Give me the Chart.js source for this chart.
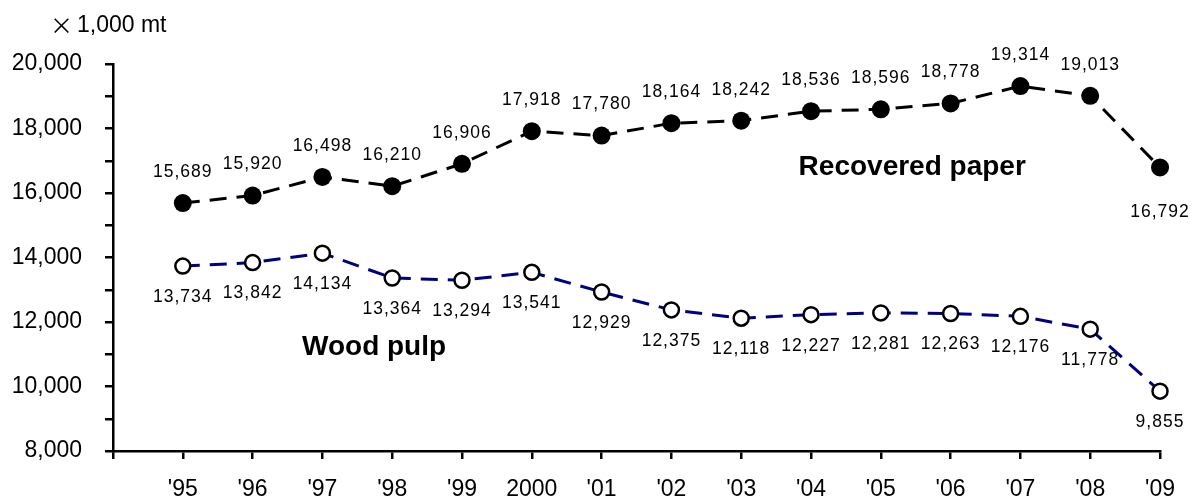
<!DOCTYPE html>
<html lang="en">
<head>
    <meta charset="UTF-8">
    <title>Recovered paper and wood pulp</title>
    <script src="https://cdn.jsdelivr.net/npm/chart.js"></script>
    <style>
        html, body { margin: 0; padding: 0; background: #fff; }
        .chart-box { width: 1192px; height: 502px; position: relative; }
    </style>
</head>
<body>
    <div class="chart-box">
        <canvas id="pulpChart"></canvas>
    </div>

    <script>
        // x categories: a blank slot before '95 so the axis starts one step early
        const years = ['', "'95", "'96", "'97", "'98", "'99", '2000', "'01", "'02", "'03", "'04", "'05", "'06", "'07", "'08", "'09"];
        const recoveredPaper = [15689, 15920, 16498, 16210, 16906, 17918, 17780, 18164, 18242, 18536, 18596, 18778, 19314, 19013, 16792];
        const woodPulp = [13734, 13842, 14134, 13364, 13294, 13541, 12929, 12375, 12118, 12227, 12281, 12263, 12176, 11778, 9855];
        const unitLabel = '1,000 mt';

        const font = '"Liberation Sans", Arial, sans-serif';

        function toPoints(values) {
            return values.map((v, i) => ({ x: years[i + 1], y: v }));
        }

        // value labels next to each marker, plus the series names and unit
        const labelPlugin = {
            id: 'labels',
            afterDatasetsDraw(chart) {
                const ctx = chart.ctx;
                const xs = chart.scales.x, ys = chart.scales.y;
                ctx.save();
                ctx.fillStyle = '#000';
                ctx.textAlign = 'center';
                ctx.textBaseline = 'middle';
                ctx.font = '17.5px ' + font;
                ctx.letterSpacing = '1px';

                chart.data.datasets.forEach((ds, di) => {
                    const meta = chart.getDatasetMeta(di);
                    meta.data.forEach((pt, i) => {
                        const v = ds.data[i].y;
                        let dy = di === 0 ? -31 : 31;
                        if (di === 0 && i === ds.data.length - 1) dy = 45;
                        ctx.fillText(v.toLocaleString('en-US'), pt.x, pt.y + dy);
                    });
                });

                ctx.letterSpacing = '0px';
                ctx.font = 'bold 28px ' + font;
                ctx.fillText('Recovered paper', xs.getPixelForValue(11.45), ys.getPixelForValue(16800));
                ctx.fillText('Wood pulp', xs.getPixelForValue(3.74), ys.getPixelForValue(11220));

                // unit caption top-left
                ctx.textAlign = 'left';
                ctx.font = '23px "Noto Sans CJK JP"';
                ctx.fillText('\u00d7', 50, 25);
                ctx.font = '23px ' + font;
                ctx.fillText(unitLabel, 77, 26);
                ctx.restore();
            }
        };

        new Chart(document.getElementById('pulpChart'), {
            type: 'line',
            data: {
                labels: years,
                datasets: [{
                    label: 'Recovered paper',
                    data: toPoints(recoveredPaper),
                    borderColor: '#000',
                    borderWidth: 3,
                    borderDash: [17, 10],
                    pointRadius: 9,
                    pointBackgroundColor: '#000',
                    pointBorderWidth: 0,
                    tension: 0
                }, {
                    label: 'Wood pulp',
                    data: toPoints(woodPulp),
                    borderColor: '#000080',
                    borderWidth: 3,
                    borderDash: [17, 10],
                    pointRadius: 7.5,
                    pointBackgroundColor: '#fff',
                    pointBorderColor: '#000',
                    pointBorderWidth: 2.5,
                    tension: 0
                }]
            },
            options: {
                responsive: true,
                maintainAspectRatio: false,
                animation: false,
                layout: { padding: { left: 0, top: 64, right: 29, bottom: 0 } },
                plugins: {
                    legend: { display: false },
                    tooltip: { enabled: false }
                },
                scales: {
                    x: {
                        type: 'category',
                        offset: false,
                        afterFit(scale) { scale.height = 51; },
                        border: { display: true, color: '#000', width: 2.5 },
                        grid: { drawOnChartArea: false, drawTicks: true, tickLength: 8, color: '#000', lineWidth: 2.5, offset: false },
                        ticks: {
                            color: '#000',
                            font: { family: font, size: 23 },
                            padding: 17,
                            maxRotation: 0,
                            autoSkip: false
                        }
                    },
                    y: {
                        min: 8000,
                        max: 20000,
                        afterFit(scale) { scale.width = 113; },
                        border: { display: true, color: '#000', width: 2.5 },
                        grid: { drawOnChartArea: false, drawTicks: true, tickLength: 8, color: '#000', lineWidth: 2.5 },
                        ticks: {
                            stepSize: 1000,
                            color: '#000',
                            padding: 23,
                            font: { family: font, size: 23 },
                            callback: v => (v % 2000 === 0 ? v.toLocaleString('en-US') : '')
                        }
                    }
                }
            },
            plugins: [labelPlugin]
        });
    </script>
</body>
</html>
